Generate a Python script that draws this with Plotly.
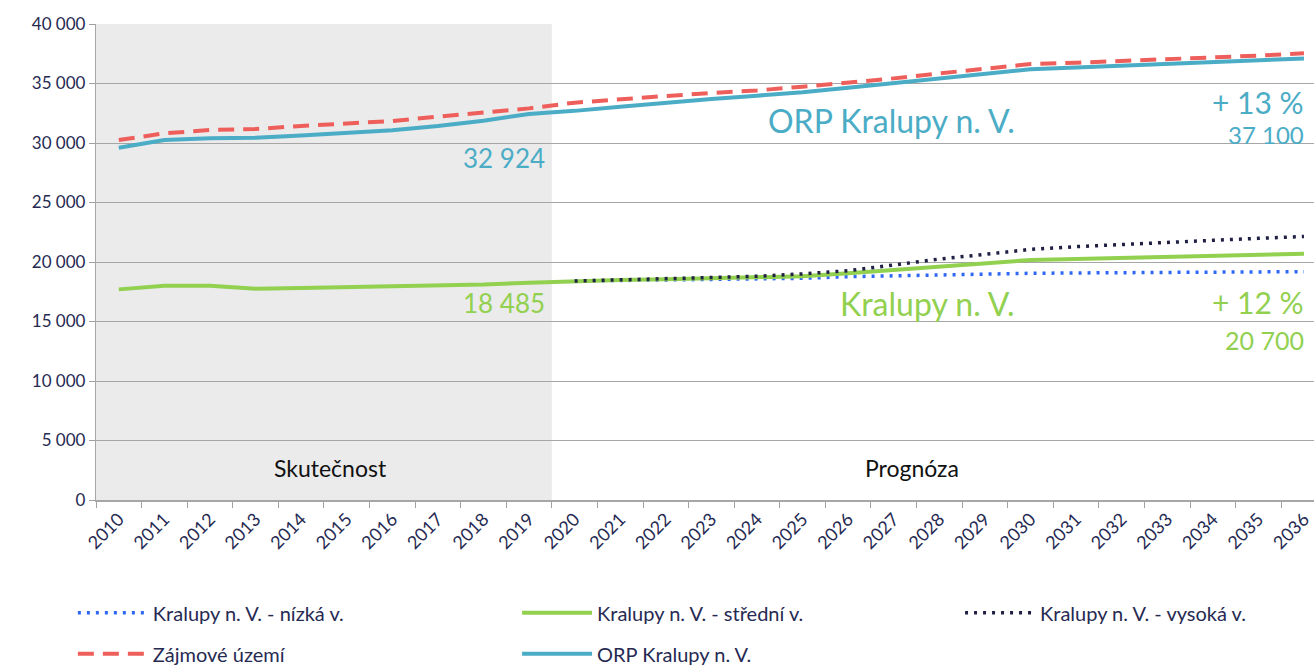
import plotly.graph_objects as go

years = [str(y) for y in range(2010, 2037)]

# actual (2010-2020) + medium forecast
stredni = [17700, 18010, 18010, 17760, 17820, 17870, 17930, 18010, 18100, 18260, 18400,
           18480, 18550, 18620, 18700, 18800, 19050, 19330, 19620, 19940, 20170,
           20250, 20340, 20420, 20500, 20590, 20700]
nizka = [None] * 10 + [18400, 18450, 18500, 18550, 18590, 18630, 18770, 18850, 18920,
                       18990, 19050, 19080, 19110, 19130, 19150, 19170, 19190]
vysoka = [None] * 10 + [18400, 18500, 18600, 18700, 18800, 19000, 19270, 19750, 20250,
                        20640, 21060, 21290, 21490, 21650, 21820, 21990, 22150]
zajmove = [30250, 30810, 31090, 31180, 31430, 31680, 31850, 32210, 32580, 32910, 33390,
           33700, 33950, 34200, 34420, 34730, 35070, 35430, 35850, 36270, 36630,
           36750, 36890, 37060, 37200, 37340, 37540]
orp = [29600, 30250, 30390, 30450, 30640, 30850, 31080, 31420, 31870, 32440, 32700,
       33050, 33400, 33700, 33980, 34260, 34650, 35040, 35400, 35810, 36190,
       36340, 36490, 36640, 36800, 36950, 37100]

y_ticks = list(range(0, 40001, 5000))
y_tick_labels = ["0", "5 000", "10 000", "15 000", "20 000", "25 000", "30 000", "35 000", "40 000"]

FONT = "Lato"
NAVY = "#262A52"
C_ORP = "#4BACC6"
C_ZAJ = "#EE5F5B"
C_STR = "#92D050"
C_NIZ = "#2F67F5"
C_VYS = "#202045"

fig = go.Figure()
fig.add_trace(go.Scatter(x=years, y=nizka, name="Kralupy n. V. - nízká v.", mode="lines",
                         line=dict(color=C_NIZ, width=3.5, dash="3px,6px"),
                         legend="legend", legendgroup="g1"))
fig.add_trace(go.Scatter(x=years, y=stredni, name="Kralupy n. V. - střední v.", mode="lines",
                         line=dict(color=C_STR, width=4),
                         legend="legend2", legendgroup="g2"))
fig.add_trace(go.Scatter(x=years, y=vysoka, name="Kralupy n. V. - vysoká v.", mode="lines",
                         line=dict(color=C_VYS, width=3.5, dash="3px,6px"),
                         legend="legend3", legendgroup="g3"))
fig.add_trace(go.Scatter(x=years, y=zajmove, name="Zájmové území", mode="lines",
                         line=dict(color=C_ZAJ, width=4, dash="16px,9px"),
                         legend="legend", legendgroup="g4"))
fig.add_trace(go.Scatter(x=years, y=orp, name="ORP Kralupy n. V.", mode="lines",
                         line=dict(color=C_ORP, width=4),
                         legend="legend2", legendgroup="g5"))

# shaded "actual" period
fig.add_shape(type="rect", xref="x", yref="y", x0=-0.5, x1=9.5, y0=0, y1=40000,
              fillcolor="#EBEBEB", line=dict(width=0), layer="below")

def ann(text, x, y, color, size, xanchor="right"):
    fig.add_annotation(text=text, x=x, y=y, xref="x", yref="y", showarrow=False,
                       xanchor=xanchor, yanchor="middle",
                       font=dict(family=FONT, size=size, color=color))

ann("32 924", 9.4, 28700, C_ORP, 26)
ann("ORP Kralupy n. V.", 19.7, 31900, C_ORP, 32)
ann("+ 13 %", 26.05, 33450, C_ORP, 30)
ann("37 100", 26.05, 30700, C_ORP, 24)
ann("18 485", 9.4, 16550, C_STR, 26)
ann("Kralupy n. V.", 19.7, 16550, C_STR, 32)
ann("+ 12 %", 26.05, 16650, C_STR, 30)
ann("20 700", 26.05, 13450, C_STR, 25)
ann("Skutečnost", 4.65, 2700, "#111111", 23, "center")
ann("Prognóza", 17.4, 2700, "#111111", 23, "center")

leg_common = dict(orientation="v", yanchor="top", xanchor="left", itemwidth=70,
                  tracegroupgap=12, font=dict(size=20, color=NAVY),
                  bgcolor="rgba(0,0,0,0)")

fig.update_layout(
    width=1314, height=666,
    margin=dict(l=96, r=0, t=24, b=166, autoexpand=False),
    paper_bgcolor="white", plot_bgcolor="white",
    font=dict(family=FONT, size=16, color=NAVY),
    xaxis=dict(type="category", range=[-0.5, 26.22], tickangle=-45,
               tickson="boundaries", ticks="outside", ticklen=6, tickcolor="#A0A0A0",
               showgrid=False, showline=True, linecolor="#A6A6A6", linewidth=1.5,
               tickfont=dict(size=18, color=NAVY), automargin=False),
    yaxis=dict(range=[0, 40000], tickvals=y_ticks, ticktext=y_tick_labels,
               showgrid=True, gridcolor="#A6A6A6", gridwidth=1.3,
               ticks="outside", ticklen=6, tickcolor="#A0A0A0",
               showline=True, linecolor="#A6A6A6", linewidth=1.3,
               zeroline=False, tickfont=dict(size=17, color=NAVY), automargin=False),
    legend=dict(x=-0.019, y=-0.196, **leg_common),
    legend2=dict(x=0.3457, y=-0.196, **leg_common),
    legend3=dict(x=0.7094, y=-0.196, **leg_common),
    showlegend=True,
)

fig.write_html("out.html", config={"displayModeBar": False},
               post_script="document.body.style.margin='0';")
